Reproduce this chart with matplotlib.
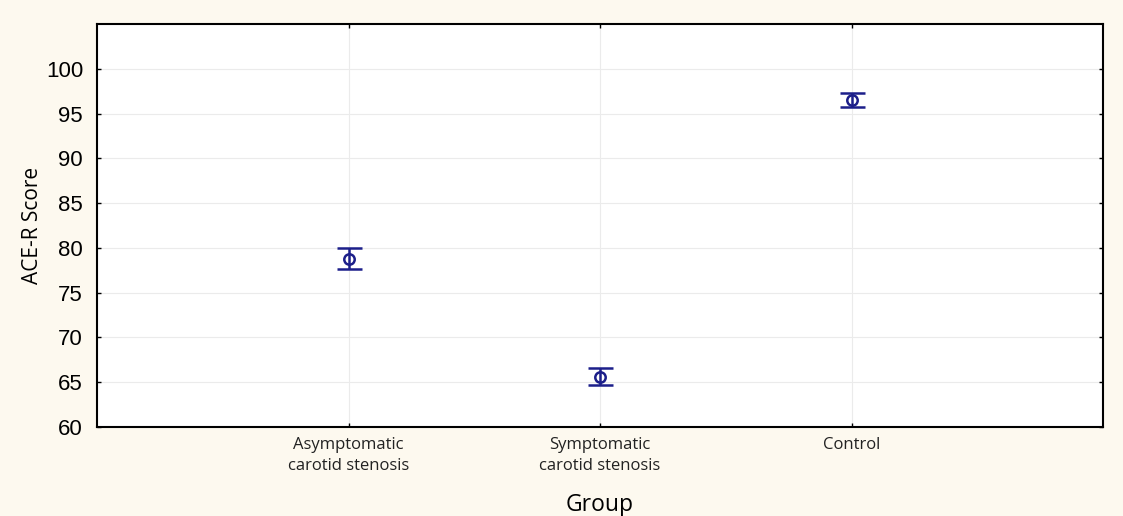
import matplotlib.pyplot as plt

# group means and error half-widths
groups = ['Asymptomatic\ncarotid stenosis', 'Symptomatic\ncarotid stenosis', 'Control']
means = [78.8, 65.6, 96.5]
errors = [1.2, 0.95, 0.75]
positions = [1, 2, 3]
yticks = [60, 65, 70, 75, 80, 85, 90, 95, 100]

bg = '#fdf9ef'
navy = '#1c1f8a'

fig = plt.figure(figsize=(11.23, 5.16), dpi=100, facecolor=bg)
ax = fig.add_axes([97 / 1123, 1 - 427 / 516, 1006 / 1123, 403 / 516])
ax.set_facecolor('white')

ax.errorbar(positions, means, yerr=errors, fmt='o', color=navy, mfc='none',
            mec=navy, ms=7.5, mew=1.8, elinewidth=1.8, capsize=9, capthick=1.8)

ax.set_xlim(0, 4)
ax.set_ylim(60, 105)
ax.set_yticks(yticks)
ax.set_xticks(positions)
ax.set_xticklabels(groups, family='Open Sans', fontsize=12, color='#222222',
                   linespacing=1.4)
ax.set_yticklabels([str(t) for t in yticks], family='Liberation Sans', fontsize=16)
ax.grid(True, color='#ebebeb', linewidth=0.8)
ax.set_axisbelow(True)

ax.tick_params(axis='both', direction='in', length=3, width=1,
               top=True, right=True)
ax.tick_params(axis='y', pad=10)
ax.tick_params(axis='x', pad=7)
for s in ax.spines.values():
    s.set_linewidth(1.5)
    s.set_color('black')

ax.set_ylabel('ACE-R Score', family='Open Sans', fontsize=15, labelpad=2)
ax.set_xlabel('Group', family='Open Sans', fontsize=16.5, labelpad=14)

fig.savefig('out.png', dpi=100, facecolor=bg)
